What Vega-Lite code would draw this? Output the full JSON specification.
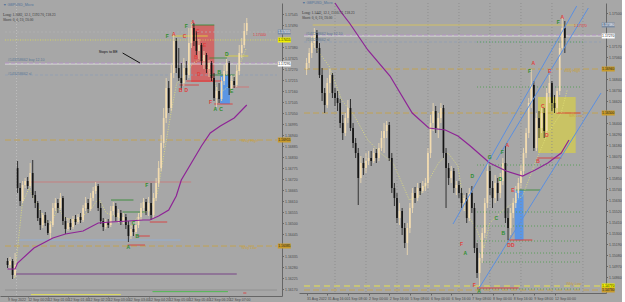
{
"$schema": "https://vega.github.io/schema/vega-lite/v6.json",
"padding": 0,
"background": "#a7a7a7",
"spacing": 1,
"config": {
 "view": {"stroke": null},
 "axis": {"labelFont": "Liberation Sans", "labelFontSize": 3.5, "labelColor": "#4a4a4a", "domainColor": "#666666", "tickColor": "#666666", "tickSize": 2, "grid": false, "title": null, "labelOverlap": false, "labelFlush": false},
 "text": {"font": "Liberation Sans"}
},
"resolve": {"scale": {"x": "independent", "y": "independent", "color": "independent", "strokeDash": "independent", "strokeWidth": "independent", "fill": "independent"}},
"datasets": {
 "L_candles": [
  {"i":1,"o":1.1631,"h":1.16325,"l":1.16275,"c":1.1629},
  {"i":2,"o":1.1629,"h":1.1633,"l":1.1627,"c":1.1631},
  {"i":3,"o":1.1631,"h":1.1632,"l":1.1622,"c":1.1624},
  {"i":4,"o":1.1624,"h":1.1635,"l":1.1623,"c":1.1629},
  {"i":5,"o":1.16775,"h":1.1681,"l":1.1665,"c":1.16675},
  {"i":6,"o":1.16675,"h":1.167,"l":1.16585,"c":1.1661},
  {"i":7,"o":1.1661,"h":1.1671,"l":1.166,"c":1.1669},
  {"i":8,"o":1.1669,"h":1.16725,"l":1.16675,"c":1.1671},
  {"i":9,"o":1.1671,"h":1.1673,"l":1.1667,"c":1.16685},
  {"i":10,"o":1.16685,"h":1.168,"l":1.16675,"c":1.1675},
  {"i":11,"o":1.1675,"h":1.16815,"l":1.16625,"c":1.1664},
  {"i":12,"o":1.1664,"h":1.1666,"l":1.16575,"c":1.166},
  {"i":13,"o":1.166,"h":1.1661,"l":1.1651,"c":1.16525},
  {"i":14,"o":1.16525,"h":1.16565,"l":1.16465,"c":1.1649},
  {"i":15,"o":1.1649,"h":1.1655,"l":1.16475,"c":1.1654},
  {"i":16,"o":1.1654,"h":1.16555,"l":1.16485,"c":1.165},
  {"i":17,"o":1.165,"h":1.16515,"l":1.1644,"c":1.1645},
  {"i":18,"o":1.1645,"h":1.1651,"l":1.1642,"c":1.1649},
  {"i":19,"o":1.1649,"h":1.166,"l":1.1648,"c":1.16575},
  {"i":20,"o":1.16575,"h":1.16625,"l":1.1656,"c":1.166},
  {"i":21,"o":1.166,"h":1.1662,"l":1.1655,"c":1.16575},
  {"i":22,"o":1.16575,"h":1.1665,"l":1.16565,"c":1.16625},
  {"i":23,"o":1.16625,"h":1.16635,"l":1.1649,"c":1.1651},
  {"i":24,"o":1.1651,"h":1.1653,"l":1.16445,"c":1.1647},
  {"i":25,"o":1.1647,"h":1.16525,"l":1.1646,"c":1.165},
  {"i":26,"o":1.165,"h":1.1652,"l":1.16465,"c":1.1648},
  {"i":27,"o":1.1648,"h":1.16535,"l":1.1647,"c":1.1652},
  {"i":28,"o":1.1652,"h":1.1654,"l":1.1649,"c":1.16505},
  {"i":29,"o":1.16505,"h":1.16545,"l":1.16495,"c":1.1653},
  {"i":30,"o":1.1653,"h":1.1655,"l":1.165,"c":1.16515},
  {"i":31,"o":1.16515,"h":1.1659,"l":1.16505,"c":1.16575},
  {"i":32,"o":1.16575,"h":1.1663,"l":1.1656,"c":1.166},
  {"i":33,"o":1.166,"h":1.1662,"l":1.1655,"c":1.1657},
  {"i":34,"o":1.1657,"h":1.1665,"l":1.1656,"c":1.16625},
  {"i":35,"o":1.16625,"h":1.1668,"l":1.1661,"c":1.1666},
  {"i":36,"o":1.1666,"h":1.16705,"l":1.16645,"c":1.16685},
  {"i":37,"o":1.16685,"h":1.16695,"l":1.1656,"c":1.16575},
  {"i":38,"o":1.16575,"h":1.166,"l":1.16495,"c":1.1651},
  {"i":39,"o":1.1651,"h":1.16525,"l":1.1646,"c":1.1648},
  {"i":40,"o":1.1648,"h":1.1652,"l":1.1647,"c":1.16505},
  {"i":41,"o":1.16505,"h":1.1652,"l":1.16475,"c":1.1649},
  {"i":42,"o":1.1649,"h":1.16585,"l":1.1648,"c":1.1656},
  {"i":43,"o":1.1656,"h":1.16605,"l":1.1654,"c":1.16585},
  {"i":44,"o":1.16585,"h":1.166,"l":1.1651,"c":1.1653},
  {"i":45,"o":1.1653,"h":1.1657,"l":1.165,"c":1.1655},
  {"i":46,"o":1.1655,"h":1.16565,"l":1.1649,"c":1.1651},
  {"i":47,"o":1.1651,"h":1.1655,"l":1.16495,"c":1.1653},
  {"i":48,"o":1.1653,"h":1.16545,"l":1.1647,"c":1.1649},
  {"i":49,"o":1.1649,"h":1.1651,"l":1.16405,"c":1.16435},
  {"i":50,"o":1.16435,"h":1.1649,"l":1.1642,"c":1.1647},
  {"i":51,"o":1.1647,"h":1.1649,"l":1.16435,"c":1.16455},
  {"i":52,"o":1.16455,"h":1.1651,"l":1.16445,"c":1.1649},
  {"i":53,"o":1.1649,"h":1.1655,"l":1.16475,"c":1.1653},
  {"i":54,"o":1.1653,"h":1.166,"l":1.16515,"c":1.16575},
  {"i":55,"o":1.16575,"h":1.16625,"l":1.1656,"c":1.16605},
  {"i":56,"o":1.16605,"h":1.1662,"l":1.1654,"c":1.1656},
  {"i":57,"o":1.1656,"h":1.1663,"l":1.16535,"c":1.166},
  {"i":58,"o":1.166,"h":1.167,"l":1.16515,"c":1.1654},
  {"i":59,"o":1.1654,"h":1.1665,"l":1.16525,"c":1.16625},
  {"i":60,"o":1.16625,"h":1.16725,"l":1.1661,"c":1.167},
  {"i":61,"o":1.167,"h":1.1681,"l":1.1668,"c":1.16775},
  {"i":62,"o":1.16775,"h":1.1694,"l":1.1676,"c":1.169},
  {"i":63,"o":1.169,"h":1.17075,"l":1.16875,"c":1.17025},
  {"i":64,"o":1.17025,"h":1.17225,"l":1.17,"c":1.17175},
  {"i":65,"o":1.17175,"h":1.1721,"l":1.1705,"c":1.17075},
  {"i":66,"o":1.17075,"h":1.1729,"l":1.1706,"c":1.1725},
  {"i":67,"o":1.1725,"h":1.1745,"l":1.17225,"c":1.1741},
  {"i":68,"o":1.1741,"h":1.17425,"l":1.1725,"c":1.17275},
  {"i":69,"o":1.17275,"h":1.17375,"l":1.1721,"c":1.17225},
  {"i":70,"o":1.17225,"h":1.173,"l":1.17165,"c":1.172},
  {"i":71,"o":1.172,"h":1.17325,"l":1.17185,"c":1.17275},
  {"i":72,"o":1.17275,"h":1.1731,"l":1.17215,"c":1.1724},
  {"i":73,"o":1.1724,"h":1.17475,"l":1.17225,"c":1.174},
  {"i":74,"o":1.174,"h":1.17505,"l":1.17375,"c":1.17475},
  {"i":75,"o":1.17475,"h":1.175,"l":1.17385,"c":1.1741},
  {"i":76,"o":1.1741,"h":1.1746,"l":1.1734,"c":1.1736},
  {"i":77,"o":1.1736,"h":1.1742,"l":1.1732,"c":1.1739},
  {"i":78,"o":1.1739,"h":1.174,"l":1.1729,"c":1.1731},
  {"i":79,"o":1.1731,"h":1.1736,"l":1.1727,"c":1.1734},
  {"i":80,"o":1.1734,"h":1.1735,"l":1.1725,"c":1.1727},
  {"i":81,"o":1.1727,"h":1.17315,"l":1.1723,"c":1.173},
  {"i":82,"o":1.173,"h":1.1731,"l":1.1721,"c":1.17225},
  {"i":83,"o":1.17225,"h":1.1725,"l":1.1711,"c":1.17125},
  {"i":84,"o":1.17125,"h":1.1718,"l":1.1708,"c":1.1716},
  {"i":85,"o":1.1716,"h":1.172,"l":1.171,"c":1.1712},
  {"i":86,"o":1.1712,"h":1.1723,"l":1.1711,"c":1.1721},
  {"i":87,"o":1.1721,"h":1.1729,"l":1.1719,"c":1.1726},
  {"i":88,"o":1.1726,"h":1.1732,"l":1.1724,"c":1.173},
  {"i":89,"o":1.173,"h":1.1731,"l":1.1714,"c":1.17175},
  {"i":90,"o":1.17175,"h":1.1724,"l":1.1716,"c":1.1721},
  {"i":91,"o":1.1721,"h":1.1723,"l":1.17175,"c":1.1719},
  {"i":92,"o":1.1719,"h":1.1729,"l":1.1718,"c":1.1726},
  {"i":93,"o":1.1726,"h":1.1739,"l":1.1724,"c":1.1735},
  {"i":94,"o":1.1735,"h":1.17425,"l":1.17325,"c":1.1739},
  {"i":95,"o":1.1739,"h":1.175,"l":1.17375,"c":1.1746},
  {"i":96,"o":1.1746,"h":1.17525,"l":1.1744,"c":1.175}
 ],
 "R_candles": [
  {"i":1,"o":1.1694,"h":1.1705,"l":1.1688,"c":1.17},
  {"i":2,"o":1.17,"h":1.1715,"l":1.1695,"c":1.171},
  {"i":3,"o":1.171,"h":1.1727,"l":1.1705,"c":1.172},
  {"i":4,"o":1.172,"h":1.1735,"l":1.1715,"c":1.173},
  {"i":5,"o":1.173,"h":1.1733,"l":1.171,"c":1.1715},
  {"i":6,"o":1.1715,"h":1.172,"l":1.1685,"c":1.1688},
  {"i":7,"o":1.1688,"h":1.1695,"l":1.1662,"c":1.167},
  {"i":8,"o":1.167,"h":1.1675,"l":1.165,"c":1.1658},
  {"i":9,"o":1.1658,"h":1.1685,"l":1.1655,"c":1.168},
  {"i":10,"o":1.168,"h":1.1694,"l":1.167,"c":1.1688},
  {"i":11,"o":1.1688,"h":1.169,"l":1.1665,"c":1.167},
  {"i":12,"o":1.167,"h":1.1675,"l":1.1657,"c":1.1665},
  {"i":13,"o":1.1665,"h":1.1672,"l":1.1652,"c":1.166},
  {"i":14,"o":1.166,"h":1.1664,"l":1.1635,"c":1.164},
  {"i":15,"o":1.164,"h":1.1648,"l":1.1623,"c":1.163},
  {"i":16,"o":1.163,"h":1.165,"l":1.1627,"c":1.1645},
  {"i":17,"o":1.1645,"h":1.1663,"l":1.164,"c":1.1655},
  {"i":18,"o":1.1655,"h":1.1664,"l":1.1632,"c":1.1635},
  {"i":19,"o":1.1635,"h":1.164,"l":1.1615,"c":1.162},
  {"i":20,"o":1.162,"h":1.1625,"l":1.1605,"c":1.161},
  {"i":21,"o":1.161,"h":1.1615,"l":1.1558,"c":1.1585},
  {"i":22,"o":1.1585,"h":1.1607,"l":1.158,"c":1.16},
  {"i":23,"o":1.16,"h":1.1605,"l":1.1588,"c":1.1595},
  {"i":24,"o":1.1595,"h":1.161,"l":1.159,"c":1.1602},
  {"i":25,"o":1.1602,"h":1.1612,"l":1.1598,"c":1.1605},
  {"i":26,"o":1.1605,"h":1.1612,"l":1.1597,"c":1.1602},
  {"i":27,"o":1.1602,"h":1.1615,"l":1.16,"c":1.161},
  {"i":28,"o":1.161,"h":1.1614,"l":1.16,"c":1.1605},
  {"i":29,"o":1.1605,"h":1.162,"l":1.1602,"c":1.1615},
  {"i":30,"o":1.1615,"h":1.1632,"l":1.1612,"c":1.1625},
  {"i":31,"o":1.1625,"h":1.164,"l":1.161,"c":1.1632},
  {"i":32,"o":1.1632,"h":1.1642,"l":1.1625,"c":1.1638},
  {"i":33,"o":1.1638,"h":1.1641,"l":1.1602,"c":1.1605},
  {"i":34,"o":1.1605,"h":1.161,"l":1.157,"c":1.1575},
  {"i":35,"o":1.1575,"h":1.158,"l":1.1557,"c":1.1565},
  {"i":36,"o":1.1565,"h":1.157,"l":1.154,"c":1.1545},
  {"i":37,"o":1.1545,"h":1.156,"l":1.1538,"c":1.1552},
  {"i":38,"o":1.1552,"h":1.1555,"l":1.1528,"c":1.1535},
  {"i":39,"o":1.1535,"h":1.154,"l":1.1515,"c":1.152},
  {"i":40,"o":1.152,"h":1.154,"l":1.1508,"c":1.1535},
  {"i":41,"o":1.1535,"h":1.156,"l":1.153,"c":1.1555},
  {"i":42,"o":1.1555,"h":1.1575,"l":1.155,"c":1.157},
  {"i":43,"o":1.157,"h":1.1576,"l":1.156,"c":1.1565},
  {"i":44,"o":1.1565,"h":1.158,"l":1.1562,"c":1.1575},
  {"i":45,"o":1.1575,"h":1.158,"l":1.1568,"c":1.1572},
  {"i":46,"o":1.1572,"h":1.1582,"l":1.157,"c":1.1577},
  {"i":47,"o":1.1577,"h":1.1585,"l":1.1572,"c":1.158},
  {"i":48,"o":1.158,"h":1.1615,"l":1.1575,"c":1.161},
  {"i":49,"o":1.161,"h":1.1648,"l":1.1605,"c":1.164},
  {"i":50,"o":1.164,"h":1.166,"l":1.1632,"c":1.1652},
  {"i":51,"o":1.1652,"h":1.1657,"l":1.163,"c":1.1635},
  {"i":52,"o":1.1635,"h":1.165,"l":1.1625,"c":1.1645},
  {"i":53,"o":1.1645,"h":1.166,"l":1.164,"c":1.1655},
  {"i":54,"o":1.1655,"h":1.1658,"l":1.1605,"c":1.161},
  {"i":55,"o":1.161,"h":1.1615,"l":1.1555,"c":1.1595},
  {"i":56,"o":1.1595,"h":1.16,"l":1.1578,"c":1.1585},
  {"i":57,"o":1.1585,"h":1.1597,"l":1.158,"c":1.1592},
  {"i":58,"o":1.1592,"h":1.1595,"l":1.157,"c":1.1575},
  {"i":59,"o":1.1575,"h":1.1582,"l":1.1568,"c":1.1578},
  {"i":60,"o":1.1578,"h":1.1582,"l":1.1565,"c":1.157},
  {"i":61,"o":1.157,"h":1.1575,"l":1.1555,"c":1.156},
  {"i":62,"o":1.156,"h":1.1568,"l":1.1552,"c":1.1565},
  {"i":63,"o":1.1565,"h":1.157,"l":1.154,"c":1.1545},
  {"i":64,"o":1.1545,"h":1.1575,"l":1.1542,"c":1.157},
  {"i":65,"o":1.157,"h":1.1577,"l":1.155,"c":1.1555},
  {"i":66,"o":1.1555,"h":1.156,"l":1.151,"c":1.1515},
  {"i":67,"o":1.1515,"h":1.152,"l":1.1485,"c":1.149},
  {"i":68,"o":1.149,"h":1.151,"l":1.1477,"c":1.1505},
  {"i":69,"o":1.1505,"h":1.1535,"l":1.15,"c":1.153},
  {"i":70,"o":1.153,"h":1.1565,"l":1.1525,"c":1.156},
  {"i":71,"o":1.156,"h":1.16,"l":1.1555,"c":1.1592},
  {"i":72,"o":1.1592,"h":1.1597,"l":1.1568,"c":1.1575},
  {"i":73,"o":1.1575,"h":1.1582,"l":1.1555,"c":1.1565},
  {"i":74,"o":1.1565,"h":1.1588,"l":1.156,"c":1.158},
  {"i":75,"o":1.158,"h":1.1585,"l":1.1562,"c":1.157},
  {"i":76,"o":1.157,"h":1.159,"l":1.1565,"c":1.1582},
  {"i":77,"o":1.1582,"h":1.1605,"l":1.1578,"c":1.16},
  {"i":78,"o":1.16,"h":1.1617,"l":1.154,"c":1.1545},
  {"i":79,"o":1.1545,"h":1.1555,"l":1.1523,"c":1.1535},
  {"i":80,"o":1.1535,"h":1.1555,"l":1.1528,"c":1.155},
  {"i":81,"o":1.155,"h":1.1565,"l":1.1545,"c":1.156},
  {"i":82,"o":1.156,"h":1.1577,"l":1.1555,"c":1.157},
  {"i":83,"o":1.157,"h":1.1585,"l":1.1565,"c":1.158},
  {"i":84,"o":1.158,"h":1.1598,"l":1.1575,"c":1.1592},
  {"i":85,"o":1.1592,"h":1.1615,"l":1.1588,"c":1.161},
  {"i":86,"o":1.161,"h":1.1635,"l":1.1605,"c":1.163},
  {"i":87,"o":1.163,"h":1.1665,"l":1.1625,"c":1.166},
  {"i":88,"o":1.166,"h":1.1694,"l":1.1655,"c":1.1678},
  {"i":89,"o":1.1678,"h":1.1682,"l":1.1612,"c":1.1615},
  {"i":90,"o":1.1615,"h":1.165,"l":1.1612,"c":1.1645},
  {"i":91,"o":1.1645,"h":1.1652,"l":1.1625,"c":1.1635},
  {"i":92,"o":1.1635,"h":1.1657,"l":1.163,"c":1.165},
  {"i":93,"o":1.165,"h":1.1655,"l":1.1625,"c":1.1632},
  {"i":94,"o":1.1632,"h":1.1675,"l":1.1628,"c":1.167},
  {"i":95,"o":1.167,"h":1.1688,"l":1.166,"c":1.168},
  {"i":96,"o":1.168,"h":1.1682,"l":1.1652,"c":1.166},
  {"i":97,"o":1.166,"h":1.1668,"l":1.165,"c":1.1655},
  {"i":98,"o":1.1655,"h":1.1675,"l":1.165,"c":1.1672},
  {"i":99,"o":1.1672,"h":1.172,"l":1.1668,"c":1.1715},
  {"i":100,"o":1.1715,"h":1.1746,"l":1.1712,"c":1.1735},
  {"i":101,"o":1.1735,"h":1.1742,"l":1.171,"c":1.1725}
 ],
 "L_ma": [
  {"i":1,"p":1.1627},{"i":4,"p":1.1627},{"i":5,"p":1.163},{"i":11.5,"p":1.16375},{"i":19,"p":1.16425},{"i":24,"p":1.16445},{"i":31,"p":1.1646},{"i":37,"p":1.165},{"i":42,"p":1.16505},{"i":49,"p":1.1651},{"i":55,"p":1.16515},{"i":57.5,"p":1.16515},{"i":61,"p":1.16535},{"i":65,"p":1.16565},{"i":68,"p":1.16635},{"i":70,"p":1.16715},{"i":74,"p":1.168},{"i":78,"p":1.16885},{"i":81.5,"p":1.1695},{"i":85.5,"p":1.16985},{"i":91,"p":1.17025},{"i":96,"p":1.1709}
 ],
 "R_ma": [
  {"i":12,"p":1.176},{"i":14.6,"p":1.175},{"i":17.6,"p":1.174},{"i":24.7,"p":1.1713},{"i":33.3,"p":1.1687},{"i":41.9,"p":1.165},{"i":48.3,"p":1.1635},{"i":54.7,"p":1.1633},{"i":59.6,"p":1.1627},{"i":64.4,"p":1.1617},{"i":71.9,"p":1.16},{"i":78.3,"p":1.1592},{"i":84.6,"p":1.1587},{"i":89.5,"p":1.1593},{"i":94.4,"p":1.16},{"i":99.6,"p":1.161},{"i":102.6,"p":1.1623}
 ],
 "L_zz": [
  {"i":3.8,"p":1.16225},{"i":5,"p":1.16375},{"i":6.9,"p":1.166},{"i":9.6,"p":1.16675},{"i":11.5,"p":1.16625},{"i":15.3,"p":1.16525},{"i":18,"p":1.1649},{"i":21.1,"p":1.16575},{"i":23.8,"p":1.16525},{"i":28.7,"p":1.1651},{"i":34.5,"p":1.16575},{"i":37.2,"p":1.16625},{"i":40.2,"p":1.1655},{"i":46,"p":1.16525},{"i":49.8,"p":1.16475},{"i":53.6,"p":1.1655},{"i":57.5,"p":1.1656},{"i":60.5,"p":1.1665},{"i":63.2,"p":1.1685},{"i":65.9,"p":1.1705},{"i":68.2,"p":1.172},{"i":70.9,"p":1.17225},{"i":74.7,"p":1.173},{"i":78.5,"p":1.17325},{"i":82.4,"p":1.17225},{"i":85.1,"p":1.1715},{"i":88.1,"p":1.17175},{"i":92,"p":1.1725},{"i":95.8,"p":1.17375}
 ],
 "R_zz": [
  {"i":2.2,"p":1.1723},{"i":9.7,"p":1.1697},{"i":14.6,"p":1.1663},{"i":19.5,"p":1.1647},{"i":24.7,"p":1.1623},{"i":29.6,"p":1.161},{"i":34.5,"p":1.16},{"i":40.8,"p":1.1563},{"i":44.6,"p":1.1567},{"i":48.3,"p":1.1583},{"i":52.1,"p":1.16},{"i":55.8,"p":1.161},{"i":59.6,"p":1.1597},{"i":62.2,"p":1.1553},{"i":67,"p":1.1533},{"i":69.7,"p":1.1515},{"i":71.9,"p":1.154},{"i":77.2,"p":1.1553},{"i":84.6,"p":1.1567},{"i":89.5,"p":1.16},{"i":94.4,"p":1.163},{"i":99.6,"p":1.165},{"i":101.9,"p":1.1673}
 ],
 "L_levels": [
  {"a":0,"b":108,"p":1.17455,"kind":"ask"},
  {"a":0,"b":108,"p":1.17415,"kind":"daily"},
  {"a":0,"b":108,"p":1.17295,"kind":"bid"},
  {"a":0,"b":108,"p":1.173,"kind":"pivot"},
  {"a":0,"b":108,"p":1.1724,"kind":"order"},
  {"a":0,"b":108,"p":1.16915,"kind":"weekly"},
  {"a":0,"b":108,"p":1.16385,"kind":"weekly"},
  {"a":0,"b":108,"p":1.16165,"kind":"separator"},
  {"a":9.6,"b":73.9,"p":1.16705,"kind":"resistance"},
  {"a":5.7,"b":69.7,"p":1.16415,"kind":"support"},
  {"a":42.1,"b":51,"p":1.16615,"kind":"target"},
  {"a":46.7,"b":55.9,"p":1.16555,"kind":"target"},
  {"a":48.7,"b":55.6,"p":1.1639,"kind":"stop"},
  {"a":52.5,"b":57.5,"p":1.16435,"kind":"stop"},
  {"a":57.5,"b":64.4,"p":1.16505,"kind":"stop"},
  {"a":3.8,"b":92,"p":1.16245,"kind":"range"},
  {"a":73.9,"b":83.1,"p":1.1749,"kind":"target"},
  {"a":81.2,"b":88.1,"p":1.17325,"kind":"target"},
  {"a":81.2,"b":91.2,"p":1.1724,"kind":"target"},
  {"a":66.3,"b":80.5,"p":1.17435,"kind":"entry"},
  {"a":87.4,"b":96.6,"p":1.17335,"kind":"entry"},
  {"a":72,"b":85.8,"p":1.1721,"kind":"stop"},
  {"a":69.3,"b":77,"p":1.1719,"kind":"stop"},
  {"a":83.1,"b":90.4,"p":1.17095,"kind":"stop"},
  {"a":90,"b":96.9,"p":1.1718,"kind":"tp"},
  {"a":10.3,"b":46,"p":1.16142,"kind":"signal_up"},
  {"a":58.6,"b":88.5,"p":1.16157,"kind":"signal_dn"},
  {"a":94.6,"b":95.8,"p":1.1615,"kind":"stop"}
 ],
 "R_levels": [
  {"a":3.4,"b":105.6,"p":1.1738,"kind":"high"},
  {"a":0,"b":115,"p":1.1727,"kind":"bid"},
  {"a":0,"b":115,"p":1.1728,"kind":"pivot"},
  {"a":0,"b":115,"p":1.1721,"kind":"order"},
  {"a":67,"b":108.2,"p":1.1721,"kind":"fib"},
  {"a":0,"b":115,"p":1.1694,"kind":"weekly"},
  {"a":0,"b":115,"p":1.165,"kind":"weekly"},
  {"a":0,"b":115,"p":1.1473,"kind":"weekly"},
  {"a":0,"b":115,"p":1.1477,"kind":"lowband"},
  {"a":67,"b":107.5,"p":1.1676,"kind":"fib"},
  {"a":67,"b":107.5,"p":1.1598,"kind":"fib"},
  {"a":67,"b":107.5,"p":1.1551,"kind":"fib"},
  {"a":67,"b":107.5,"p":1.1537,"kind":"fib"},
  {"a":67,"b":107.5,"p":1.1522,"kind":"fib"},
  {"a":67,"b":107.5,"p":1.151,"kind":"fib"},
  {"a":67,"b":107.5,"p":1.1501,"kind":"fib"},
  {"a":67,"b":107.5,"p":1.1474,"kind":"fib"},
  {"a":79,"b":88.4,"p":1.1523,"kind":"stop"},
  {"a":67,"b":83.1,"p":1.1475,"kind":"stop"},
  {"a":90.3,"b":99.6,"p":1.1605,"kind":"stop"},
  {"a":97.8,"b":107.1,"p":1.165,"kind":"stop"},
  {"a":82,"b":91.4,"p":1.1573,"kind":"target"}
 ],
 "L_zones": [
  {"a":73.9,"b":83.1,"p1":1.1749,"p2":1.17205,"kind":"sell"},
  {"a":85.4,"b":89.3,"p1":1.1724,"p2":1.17095,"kind":"buy"}
 ],
 "R_zones": [
  {"a":81.6,"b":85,"p1":1.1573,"p2":1.1523,"kind":"buy"},
  {"a":90.6,"b":105.2,"p1":1.1666,"p2":1.161,"kind":"range"}
 ],
 "L_days": [{"i":4.6}],
 "R_days": [{"i":12},{"i":24},{"i":36},{"i":48},{"i":60},{"i":72},{"i":84},{"i":96},{"i":108}],
 "L_draw": [{"id":"be","i":46.7,"p":1.1735},{"id":"be","i":53.6,"p":1.173}],
 "R_draw": [
  {"id":"upper","i":57.7,"p":1.1539},{"id":"upper","i":105.6,"p":1.1757},
  {"id":"mid","i":74.5,"p":1.1603},{"id":"mid","i":110.1,"p":1.1755},
  {"id":"lower","i":67.8,"p":1.1475},{"id":"lower","i":115,"p":1.167}
 ],
 "L_marks": [
  {"i":64.4,"p":1.17435,"t":"F","side":"buy"},{"i":67,"p":1.17445,"t":"A","side":"sell"},{"i":71.3,"p":1.17435,"t":"C","side":"sell"},
  {"i":72,"p":1.17485,"t":"F","side":"buy"},{"i":74.7,"p":1.17505,"t":"A","side":"sell"},{"i":76.6,"p":1.1746,"t":"C","side":"sell"},
  {"i":79.3,"p":1.1739,"t":"E","side":"sell"},{"i":75.9,"p":1.1733,"t":"B","side":"sell"},{"i":77,"p":1.17245,"t":"D","side":"sell"},
  {"i":69.7,"p":1.17165,"t":"B","side":"sell"},{"i":72,"p":1.17165,"t":"D","side":"sell"},{"i":88.1,"p":1.17345,"t":"D","side":"buy"},
  {"i":85.1,"p":1.17255,"t":"B","side":"buy"},{"i":81.6,"p":1.17105,"t":"F","side":"sell"},{"i":83.5,"p":1.1707,"t":"A","side":"buy"},
  {"i":85.8,"p":1.1707,"t":"C","side":"buy"},{"i":90,"p":1.1716,"t":"E","side":"buy"},
  {"i":49,"p":1.1638,"t":"A","side":"buy"},{"i":52.5,"p":1.16435,"t":"B","side":"buy"},{"i":51,"p":1.165,"t":"C","side":"buy"},{"i":56.3,"p":1.1669,"t":"F","side":"buy"}
 ],
 "R_marks": [
  {"i":88.8,"p":1.17,"t":"A","side":"sell"},{"i":87.3,"p":1.1692,"t":"F","side":"buy"},{"i":95.1,"p":1.1692,"t":"E","side":"sell"},
  {"i":92.5,"p":1.1657,"t":"C","side":"sell"},{"i":94,"p":1.1628,"t":"D","side":"sell"},{"i":90.6,"p":1.1602,"t":"B","side":"sell"},
  {"i":78.7,"p":1.1618,"t":"A","side":"sell"},{"i":76.8,"p":1.1611,"t":"F","side":"buy"},{"i":76,"p":1.1584,"t":"D","side":"buy"},
  {"i":80.9,"p":1.1573,"t":"E","side":"sell"},{"i":71.9,"p":1.1606,"t":"G","side":"buy"},{"i":65.2,"p":1.1587,"t":"D","side":"buy"},
  {"i":74.5,"p":1.1545,"t":"C","side":"buy"},{"i":77.2,"p":1.153,"t":"B","side":"buy"},{"i":79.4,"p":1.1518,"t":"D","side":"sell"},
  {"i":80.9,"p":1.1518,"t":"D","side":"sell"},{"i":61,"p":1.1519,"t":"F","side":"sell"},{"i":62.5,"p":1.151,"t":"A","side":"buy"},
  {"i":65.9,"p":1.1478,"t":"F","side":"sell"},{"i":67.8,"p":1.1472,"t":"A","side":"buy"},
  {"i":100,"p":1.1746,"t":"A","side":"sell"},{"i":98.5,"p":1.1741,"t":"F","side":"buy"}
 ],
 "L_notes": [
  {"i":37.2,"p":1.17355,"t":"Stops to BE","role":"note"},
  {"i":93.9,"p":1.1691,"t":"Wkly High","role":"weekly"},
  {"i":93.9,"p":1.16375,"t":"Wkly Low","role":"weekly"},
  {"i":1.1,"p":1.17315,"t":"#143258662 buy 12.10","role":"order"},
  {"i":1.1,"p":1.17245,"t":"#143258662 sl","role":"order"},
  {"i":98.5,"p":1.1744,"t":"1.17440","role":"tp"}
 ],
 "R_notes": [
  {"i":100.7,"p":1.1692,"t":"Wkly High","role":"weekly"},
  {"i":102.6,"p":1.1647,"t":"S/R Low","role":"weekly"},
  {"i":101.5,"p":1.1479,"t":"Wkly Low","role":"weekly"},
  {"i":0.7,"p":1.1729,"t":"#143258662 buy 12.10","role":"order"},
  {"i":0.7,"p":1.1723,"t":"#143258662 sl","role":"order"},
  {"i":104.5,"p":1.1737,"t":"1.17370","role":"tp"}
 ],
 "L_tags": [{"p":1.17455,"kind":"ask"},{"p":1.17415,"kind":"alert"},{"p":1.17295,"kind":"bid"},{"p":1.16915,"kind":"weekly"},{"p":1.16385,"kind":"weekly"}],
 "R_tags": [{"p":1.1738,"kind":"ask"},{"p":1.1727,"kind":"bid"},{"p":1.1694,"kind":"weekly"},{"p":1.165,"kind":"weekly"},{"p":1.1477,"kind":"alert"},{"p":1.1473,"kind":"weekly"}]
},
"hconcat": [
 {
  "width": 282, "height": 293,
  "title": {"text": "▼ GBPUSD_Micro", "subtitle": ["Long: 1.1682, 12.1, £192.70, £18.23", "Short: 0, 0, £0, £0.00"], "anchor": "start", "frame": "group", "orient": "top", "offset": -19, "dx": 3, "font": "Liberation Sans", "fontSize": 3.6, "fontWeight": "normal", "color": "#50719a", "subtitleFont": "Liberation Serif", "subtitleFontSize": 3.6, "subtitleColor": "#333333", "subtitlePadding": 6, "subtitleLineHeight": 5},
  "resolve": {"scale": {"color": "independent", "strokeDash": "independent", "strokeWidth": "independent", "fill": "independent"}, "axis": {"x": "independent", "y": "independent"}},
  "layer": [
   {"data": {"name": "L_zones"}, "mark": {"type": "rect", "opacity": 0.85},
    "encoding": {"x": {"field": "a", "type": "quantitative", "scale": {"domain": [0, 108], "nice": false, "zero": false}, "axis": null}, "x2": {"field": "b"},
     "y": {"field": "p1", "type": "quantitative", "scale": {"domain": [1.16135, 1.176], "nice": false, "zero": false}, "axis": null}, "y2": {"field": "p2"},
     "color": {"field": "kind", "type": "nominal", "scale": {"domain": ["sell", "buy", "range"], "range": ["#d65c5c", "#4e93ef", "#cfc858"]}, "legend": null}}},
   {"data": {"name": "L_days"}, "mark": {"type": "rule", "color": "#c4c4c4", "strokeDash": [1, 2], "strokeWidth": 0.8},
    "encoding": {"x": {"field": "i", "type": "quantitative", "scale": {"domain": [0, 108], "nice": false, "zero": false}, "axis": null}}},
   {"data": {"name": "L_levels"}, "mark": {"type": "rule"},
    "encoding": {"x": {"field": "a", "type": "quantitative", "scale": {"domain": [0, 108], "nice": false, "zero": false}, "axis": null}, "x2": {"field": "b"},
     "y": {"field": "p", "type": "quantitative", "scale": {"domain": [1.16135, 1.176], "nice": false, "zero": false}, "axis": null},
     "color": {"field": "kind", "type": "nominal", "legend": null, "scale": {"domain": ["ask","daily","bid","pivot","order","weekly","separator","resistance","support","target","stop","range","entry","tp","signal_up","signal_dn","high","fib","lowband"], "range": ["#b6b6b6","#e6e64a","#f6f6f6","#b58ccb","#8d9db5","#c9a23c","#8c8c8c","#cf7474","#8fb2e2","#2f8a2f","#e23232","#6e2c80","#e2d43c","#d87272","#e6e24e","#38c038","#d7c55c","#5a9e5a","#e6e04a"]}},
     "strokeDash": {"field": "kind", "type": "nominal", "legend": null, "scale": {"domain": ["ask","daily","bid","pivot","order","weekly","separator","resistance","support","target","stop","range","entry","tp","signal_up","signal_dn","high","fib","lowband"], "range": [[2,2],[1,1.5],[1,0],[4,2],[3,2],[6,3],[1,0],[1,0],[1,0],[1,0],[1,0],[1,0],[1,0],[1,0],[1,0],[1,0],[1,0],[1,2],[6,4]]}},
     "strokeWidth": {"field": "kind", "type": "ordinal", "legend": null, "scale": {"domain": ["ask","daily","bid","pivot","order","weekly","separator","resistance","support","target","stop","range","entry","tp","signal_up","signal_dn","high","fib","lowband"], "range": [0.7,1,1.3,1,0.8,1,1,1,1.3,1.3,1.5,1.2,1.3,1.5,2,1.2,2.5,0.9,1.5]}}}},
   {"data": {"name": "L_zz"}, "mark": {"type": "line", "color": "#e2e278", "strokeDash": [1, 1.5], "strokeWidth": 0.8},
    "encoding": {"x": {"field": "i", "type": "quantitative", "scale": {"domain": [0, 108], "nice": false, "zero": false}, "axis": null},
     "y": {"field": "p", "type": "quantitative", "scale": {"domain": [1.16135, 1.176], "nice": false, "zero": false}, "axis": null}}},
   {"data": {"name": "L_candles"}, "mark": {"type": "rule", "strokeWidth": 0.8},
    "encoding": {"x": {"field": "i", "type": "quantitative", "scale": {"domain": [0, 108], "nice": false, "zero": false},
      "axis": {"orient": "bottom", "title": null, "values": [1,9,17,25,33,41,49,57,65,73,81,89], "labelExpr": "['9 Sep 2022','12 Sep 00:20','12 Sep 01:00','12 Sep 01:40','12 Sep 02:20','12 Sep 03:00','12 Sep 03:40','12 Sep 04:20','12 Sep 05:00','12 Sep 05:40','12 Sep 06:20','12 Sep 07:00'][round((datum.value-1)/8)]", "labelAlign": "left", "labelBaseline": "top", "labelPadding": 0.5, "tickSize": 1, "minExtent": 6, "maxExtent": 6}},
     "y": {"field": "l", "type": "quantitative", "scale": {"domain": [1.16135, 1.176], "nice": false, "zero": false},
      "axis": {"orient": "right", "title": null, "values": [1.17545,1.1749,1.1738,1.17325,1.1727,1.17215,1.1716,1.17105,1.1705,1.16995,1.1694,1.16885,1.1683,1.16775,1.1672,1.16665,1.1661,1.16555,1.165,1.16445,1.16335,1.1628,1.16225,1.1617], "format": ".5f", "labelPadding": 1, "tickSize": 1.5, "minExtent": 14, "maxExtent": 14}},
     "y2": {"field": "h"},
     "color": {"condition": {"test": "datum.c < datum.o", "value": "#141414"}, "value": "#f3dcb0"}}},
   {"data": {"name": "L_candles"}, "mark": {"type": "bar", "size": 1.7},
    "encoding": {"x": {"field": "i", "type": "quantitative", "scale": {"domain": [0, 108], "nice": false, "zero": false}, "axis": null},
     "y": {"field": "o", "type": "quantitative", "scale": {"domain": [1.16135, 1.176], "nice": false, "zero": false}, "axis": null}, "y2": {"field": "c"},
     "color": {"condition": {"test": "datum.c < datum.o", "value": "#141414"}, "value": "#f3dcb0"}}},
   {"data": {"name": "L_ma"}, "mark": {"type": "line", "color": "#8e2496", "strokeWidth": 1.2},
    "encoding": {"x": {"field": "i", "type": "quantitative", "scale": {"domain": [0, 108], "nice": false, "zero": false}, "axis": null},
     "y": {"field": "p", "type": "quantitative", "scale": {"domain": [1.16135, 1.176], "nice": false, "zero": false}, "axis": null}}},
   {"data": {"name": "L_draw"}, "mark": {"type": "line", "color": "#151515", "strokeWidth": 1},
    "encoding": {"x": {"field": "i", "type": "quantitative", "scale": {"domain": [0, 108], "nice": false, "zero": false}, "axis": null},
     "y": {"field": "p", "type": "quantitative", "scale": {"domain": [1.16135, 1.176], "nice": false, "zero": false}, "axis": null}, "detail": {"field": "id"}}},
   {"data": {"name": "L_marks"}, "mark": {"type": "text", "fontSize": 5, "fontWeight": "bold", "baseline": "middle", "align": "center"},
    "encoding": {"x": {"field": "i", "type": "quantitative", "scale": {"domain": [0, 108], "nice": false, "zero": false}, "axis": null},
     "y": {"field": "p", "type": "quantitative", "scale": {"domain": [1.16135, 1.176], "nice": false, "zero": false}, "axis": null},
     "text": {"field": "t"}, "color": {"field": "side", "type": "nominal", "legend": null, "scale": {"domain": ["buy", "sell"], "range": ["#2e8e2e", "#e04040"]}}}},
   {"data": {"name": "L_notes"}, "mark": {"type": "text", "fontSize": 3.6, "baseline": "middle", "align": "left"},
    "encoding": {"x": {"field": "i", "type": "quantitative", "scale": {"domain": [0, 108], "nice": false, "zero": false}, "axis": null},
     "y": {"field": "p", "type": "quantitative", "scale": {"domain": [1.16135, 1.176], "nice": false, "zero": false}, "axis": null},
     "text": {"field": "t"}, "color": {"field": "role", "type": "nominal", "legend": null, "scale": {"domain": ["note", "weekly", "order", "tp"], "range": ["#111111", "#c9a23c", "#5b7896", "#e03c3c"]}}}},
   {"data": {"name": "L_tags"}, "mark": {"type": "tick", "orient": "horizontal", "size": 13, "thickness": 5, "clip": false, "opacity": 1},
    "encoding": {"x": {"datum": 110.9, "type": "quantitative", "scale": {"domain": [0, 108], "nice": false, "zero": false}, "axis": null},
     "y": {"field": "p", "type": "quantitative", "scale": {"domain": [1.16135, 1.176], "nice": false, "zero": false}, "axis": null},
     "color": {"field": "kind", "type": "nominal", "legend": null, "scale": {"domain": ["ask", "alert", "bid", "weekly"], "range": ["#7b8ca3", "#f0f000", "#ffffff", "#c99b2a"]}}}},
   {"data": {"name": "L_tags"}, "mark": {"type": "text", "fontSize": 3.4, "baseline": "middle", "align": "center", "clip": false},
    "encoding": {"x": {"datum": 110.9, "type": "quantitative", "scale": {"domain": [0, 108], "nice": false, "zero": false}, "axis": null},
     "y": {"field": "p", "type": "quantitative", "scale": {"domain": [1.16135, 1.176], "nice": false, "zero": false}, "axis": null},
     "text": {"field": "p", "format": ".5f"},
     "color": {"field": "kind", "type": "nominal", "legend": null, "scale": {"domain": ["ask", "alert", "bid", "weekly"], "range": ["#ffffff", "#202020", "#202020", "#202020"]}}}},
   {"mark": {"type": "rect", "color": "#c9d5e1", "clip": false},
    "encoding": {"x": {"datum": 113.6, "type": "quantitative", "scale": {"domain": [0, 108], "nice": false, "zero": false}, "axis": null}, "x2": {"datum": 114.95},
     "y": {"datum": 1.1609, "type": "quantitative", "scale": {"domain": [1.16135, 1.176], "nice": false, "zero": false}, "axis": null}, "y2": {"datum": 1.1762}}}
  ]
 },
 {
  "width": 307, "height": 290,
  "title": {"text": "▼ GBPUSD_Micro", "subtitle": ["Long: 1.1442, 12.1, £130.73, £18.23", "Short: 0, 0, £0, £0.00"], "anchor": "start", "frame": "group", "orient": "top", "offset": -19, "dx": 3, "font": "Liberation Sans", "fontSize": 3.6, "fontWeight": "normal", "color": "#50719a", "subtitleFont": "Liberation Serif", "subtitleFontSize": 3.6, "subtitleColor": "#333333", "subtitlePadding": 6, "subtitleLineHeight": 5},
  "resolve": {"scale": {"color": "independent", "strokeDash": "independent", "strokeWidth": "independent", "fill": "independent"}, "axis": {"x": "independent", "y": "independent"}},
  "layer": [
   {"data": {"name": "R_zones"}, "mark": {"type": "rect", "opacity": 0.85},
    "encoding": {"x": {"field": "a", "type": "quantitative", "scale": {"domain": [0, 115], "nice": false, "zero": false}, "axis": null}, "x2": {"field": "b"},
     "y": {"field": "p1", "type": "quantitative", "scale": {"domain": [1.147, 1.176], "nice": false, "zero": false}, "axis": null}, "y2": {"field": "p2"},
     "color": {"field": "kind", "type": "nominal", "scale": {"domain": ["sell", "buy", "range"], "range": ["#d65c5c", "#4e93ef", "#cfc858"]}, "legend": null}}},
   {"data": {"name": "R_days"}, "mark": {"type": "rule", "color": "#8a8a8a", "strokeDash": [1, 2], "strokeWidth": 0.8},
    "encoding": {"x": {"field": "i", "type": "quantitative", "scale": {"domain": [0, 115], "nice": false, "zero": false}, "axis": null}}},
   {"data": {"name": "R_levels"}, "mark": {"type": "rule"},
    "encoding": {"x": {"field": "a", "type": "quantitative", "scale": {"domain": [0, 115], "nice": false, "zero": false}, "axis": null}, "x2": {"field": "b"},
     "y": {"field": "p", "type": "quantitative", "scale": {"domain": [1.147, 1.176], "nice": false, "zero": false}, "axis": null},
     "color": {"field": "kind", "type": "nominal", "legend": null, "scale": {"domain": ["ask","daily","bid","pivot","order","weekly","separator","resistance","support","target","stop","range","entry","tp","signal_up","signal_dn","high","fib","lowband"], "range": ["#b6b6b6","#e6e64a","#f6f6f6","#b58ccb","#8d9db5","#c9a23c","#8c8c8c","#cf7474","#8fb2e2","#2f8a2f","#e23232","#6e2c80","#e2d43c","#d87272","#e6e24e","#38c038","#d7c55c","#5a9e5a","#e6e04a"]}},
     "strokeDash": {"field": "kind", "type": "nominal", "legend": null, "scale": {"domain": ["ask","daily","bid","pivot","order","weekly","separator","resistance","support","target","stop","range","entry","tp","signal_up","signal_dn","high","fib","lowband"], "range": [[2,2],[1,1.5],[1,0],[4,2],[3,2],[6,3],[1,0],[1,0],[1,0],[1,0],[1,0],[1,0],[1,0],[1,0],[1,0],[1,0],[1,0],[1,2],[6,4]]}},
     "strokeWidth": {"field": "kind", "type": "ordinal", "legend": null, "scale": {"domain": ["ask","daily","bid","pivot","order","weekly","separator","resistance","support","target","stop","range","entry","tp","signal_up","signal_dn","high","fib","lowband"], "range": [0.7,1,1.3,1,0.8,1,1,1,1.3,1.3,1.5,1.2,1.3,1.5,2,1.2,2.5,0.9,1.5]}}}},
   {"data": {"name": "R_zz"}, "mark": {"type": "line", "color": "#e2e278", "strokeDash": [1, 1.5], "strokeWidth": 0.8},
    "encoding": {"x": {"field": "i", "type": "quantitative", "scale": {"domain": [0, 115], "nice": false, "zero": false}, "axis": null},
     "y": {"field": "p", "type": "quantitative", "scale": {"domain": [1.147, 1.176], "nice": false, "zero": false}, "axis": null}}},
   {"data": {"name": "R_candles"}, "mark": {"type": "rule", "strokeWidth": 0.8},
    "encoding": {"x": {"field": "i", "type": "quantitative", "scale": {"domain": [0, 115], "nice": false, "zero": false},
      "axis": {"orient": "bottom", "title": null, "values": [1,9,17,25,33,41,49,57,65,73,81,89,97], "labelExpr": "['31 Aug 2022','31 Aug 16:00','1 Sep 08:00','2 Sep 00:00','2 Sep 16:00','5 Sep 08:00','6 Sep 00:00','6 Sep 16:00','7 Sep 08:00','8 Sep 00:00','8 Sep 16:00','9 Sep 08:00','12 Sep 00:00'][round((datum.value-1)/8)]", "labelAlign": "left", "labelBaseline": "top", "labelPadding": 1, "tickSize": 2, "minExtent": 6, "maxExtent": 6}},
     "y": {"field": "l", "type": "quantitative", "scale": {"domain": [1.147, 1.176], "nice": false, "zero": false},
      "axis": {"orient": "right", "title": null, "values": [1.175,1.1717,1.1706,1.1684,1.1673,1.1662,1.164,1.1629,1.1618,1.1607,1.1596,1.1585,1.1574,1.1563,1.1552,1.1541,1.153,1.1519,1.1508,1.1497,1.1486], "format": ".5f", "labelPadding": 1, "tickSize": 1.5, "minExtent": 14, "maxExtent": 14}},
     "y2": {"field": "h"},
     "color": {"condition": {"test": "datum.c < datum.o", "value": "#141414"}, "value": "#f3dcb0"}}},
   {"data": {"name": "R_candles"}, "mark": {"type": "bar", "size": 1.7},
    "encoding": {"x": {"field": "i", "type": "quantitative", "scale": {"domain": [0, 115], "nice": false, "zero": false}, "axis": null},
     "y": {"field": "o", "type": "quantitative", "scale": {"domain": [1.147, 1.176], "nice": false, "zero": false}, "axis": null}, "y2": {"field": "c"},
     "color": {"condition": {"test": "datum.c < datum.o", "value": "#141414"}, "value": "#f3dcb0"}}},
   {"data": {"name": "R_ma"}, "mark": {"type": "line", "color": "#8e2496", "strokeWidth": 1.2},
    "encoding": {"x": {"field": "i", "type": "quantitative", "scale": {"domain": [0, 115], "nice": false, "zero": false}, "axis": null},
     "y": {"field": "p", "type": "quantitative", "scale": {"domain": [1.147, 1.176], "nice": false, "zero": false}, "axis": null}}},
   {"data": {"name": "R_draw"}, "mark": {"type": "line", "color": "#5b8fe0", "strokeWidth": 1, "clip": true},
    "encoding": {"x": {"field": "i", "type": "quantitative", "scale": {"domain": [0, 115], "nice": false, "zero": false}, "axis": null},
     "y": {"field": "p", "type": "quantitative", "scale": {"domain": [1.147, 1.176], "nice": false, "zero": false}, "axis": null}, "detail": {"field": "id"}}},
   {"data": {"name": "R_marks"}, "mark": {"type": "text", "fontSize": 5, "fontWeight": "bold", "baseline": "middle", "align": "center"},
    "encoding": {"x": {"field": "i", "type": "quantitative", "scale": {"domain": [0, 115], "nice": false, "zero": false}, "axis": null},
     "y": {"field": "p", "type": "quantitative", "scale": {"domain": [1.147, 1.176], "nice": false, "zero": false}, "axis": null},
     "text": {"field": "t"}, "color": {"field": "side", "type": "nominal", "legend": null, "scale": {"domain": ["buy", "sell"], "range": ["#2e8e2e", "#e04040"]}}}},
   {"data": {"name": "R_notes"}, "mark": {"type": "text", "fontSize": 3.6, "baseline": "middle", "align": "left"},
    "encoding": {"x": {"field": "i", "type": "quantitative", "scale": {"domain": [0, 115], "nice": false, "zero": false}, "axis": null},
     "y": {"field": "p", "type": "quantitative", "scale": {"domain": [1.147, 1.176], "nice": false, "zero": false}, "axis": null},
     "text": {"field": "t"}, "color": {"field": "role", "type": "nominal", "legend": null, "scale": {"domain": ["note", "weekly", "order", "tp"], "range": ["#111111", "#c9a23c", "#5b7896", "#e03c3c"]}}}},
   {"data": {"name": "R_tags"}, "mark": {"type": "tick", "orient": "horizontal", "size": 13, "thickness": 5, "clip": false, "opacity": 1},
    "encoding": {"x": {"datum": 117.8, "type": "quantitative", "scale": {"domain": [0, 115], "nice": false, "zero": false}, "axis": null},
     "y": {"field": "p", "type": "quantitative", "scale": {"domain": [1.147, 1.176], "nice": false, "zero": false}, "axis": null},
     "color": {"field": "kind", "type": "nominal", "legend": null, "scale": {"domain": ["ask", "alert", "bid", "weekly"], "range": ["#7b8ca3", "#f0f000", "#ffffff", "#c99b2a"]}}}},
   {"data": {"name": "R_tags"}, "mark": {"type": "text", "fontSize": 3.4, "baseline": "middle", "align": "center", "clip": false},
    "encoding": {"x": {"datum": 117.8, "type": "quantitative", "scale": {"domain": [0, 115], "nice": false, "zero": false}, "axis": null},
     "y": {"field": "p", "type": "quantitative", "scale": {"domain": [1.147, 1.176], "nice": false, "zero": false}, "axis": null},
     "text": {"field": "p", "format": ".5f"},
     "color": {"field": "kind", "type": "nominal", "legend": null, "scale": {"domain": ["ask", "alert", "bid", "weekly"], "range": ["#ffffff", "#202020", "#202020", "#202020"]}}}},
   {"mark": {"type": "rect", "color": "#c9d5e1", "clip": false},
    "encoding": {"x": {"datum": 120.25, "type": "quantitative", "scale": {"domain": [0, 115], "nice": false, "zero": false}, "axis": null}, "x2": {"datum": 121.5},
     "y": {"datum": 1.1462, "type": "quantitative", "scale": {"domain": [1.147, 1.176], "nice": false, "zero": false}, "axis": null}, "y2": {"datum": 1.1762}}}
  ]
 }
]
}
